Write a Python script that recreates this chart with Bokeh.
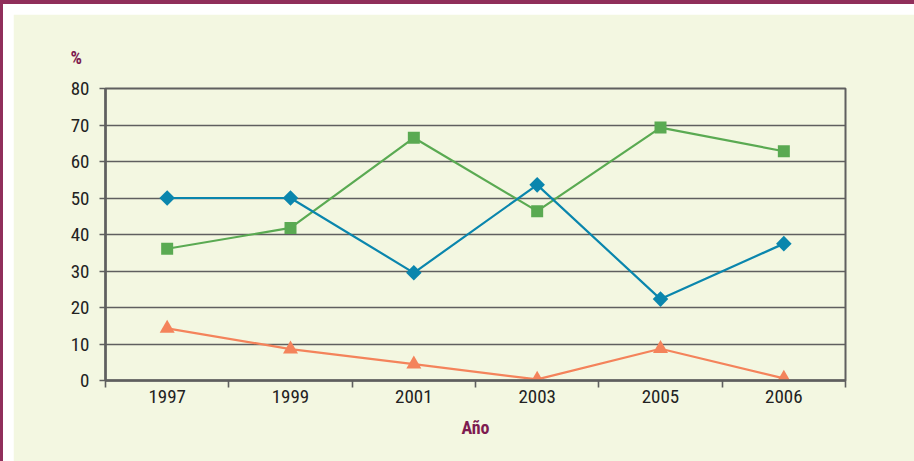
import numpy as np
from bokeh.plotting import figure
from bokeh.models import FixedTicker, Range1d
from bokeh.embed import file_html
from bokeh.resources import INLINE

years = ["1997", "1999", "2001", "2003", "2005", "2006"]
serie_azul = [50, 50, 29.5, 53.6, 22.3, 37.5]
serie_verde = [36.1, 41.8, 66.5, 46.4, 69.3, 62.8]
serie_naranja = [14.3, 8.6, 4.5, 0.3, 8.7, 0.6]
y_ticks = [0, 10, 20, 30, 40, 50, 60, 70, 80]

BG = "#f3f7e1"
GRID = "#5f5f5f"
MAROON = "#7d1b50"
FONT = "Roboto Condensed, Open Sans Condensed, Liberation Sans Narrow, Arial Narrow, DejaVu Sans Condensed, sans-serif"

x = [i + 0.5 for i in range(len(years))]

p = figure(width=914, height=461, output_backend="svg", toolbar_location=None,
           x_range=Range1d(0, len(years)), y_range=Range1d(0, 80),
           min_border_left=92, min_border_right=82, min_border_top=74, min_border_bottom=95)
p.background_fill_color = BG
p.border_fill_color = BG
p.outline_line_color = GRID
p.outline_line_width = 2
p.styles = {"border-top": "4px solid #902e5b", "border-left": "3px solid #902e5b",
            "padding-top": "10px", "padding-left": "10px", "background-color": "#ffffff"}

# title "%"
p.title.text = "%"
p.title.align = "left"
p.title.offset = -35
p.title.standoff = 42
p.title.text_font = FONT
p.title.text_font_style = "bold"
p.title.text_font_size = "18px"
p.title.text_color = MAROON

# grid
p.xgrid.visible = False
p.ygrid.ticker = FixedTicker(ticks=y_ticks)
p.ygrid.grid_line_color = GRID
p.ygrid.grid_line_width = 1.6

# x axis
p.xaxis.ticker = FixedTicker(ticks=x, minor_ticks=list(range(len(years) + 1)))
p.xaxis.major_label_overrides = {xx: yy for xx, yy in zip(x, years)}
p.xaxis.major_tick_out = 0
p.xaxis.major_tick_in = 0
p.xaxis.minor_tick_out = 7
p.xaxis.minor_tick_in = 0
p.xaxis.minor_tick_line_color = GRID
p.xaxis.minor_tick_line_width = 1.6
p.xaxis.axis_line_color = GRID
p.xaxis.axis_line_width = 2.5
p.xaxis.major_label_standoff = 2
p.xaxis.major_label_text_font = FONT
p.xaxis.major_label_text_font_size = "19px"
p.xaxis.major_label_text_color = "#222222"
p.xaxis.axis_label = "Año"
p.xaxis.axis_label_text_font = FONT
p.xaxis.axis_label_text_font_style = "bold"
p.xaxis.axis_label_text_font_size = "18px"
p.xaxis.axis_label_text_color = MAROON
p.xaxis.axis_label_standoff = 11

# y axis
p.yaxis.ticker = FixedTicker(ticks=y_ticks)
p.yaxis.major_tick_out = 6
p.yaxis.major_tick_in = 0
p.yaxis.minor_tick_out = 0
p.yaxis.minor_tick_in = 0
p.yaxis.major_tick_line_color = GRID
p.yaxis.major_tick_line_width = 1.6
p.yaxis.axis_line_color = GRID
p.yaxis.axis_line_width = 2.5
p.yaxis.major_label_standoff = 10
p.yaxis.major_label_text_font = FONT
p.yaxis.major_label_text_font_size = "19px"
p.yaxis.major_label_text_color = "#222222"

# series
BLUE = "#0a86ad"
GREEN = "#5aaa52"
ORANGE = "#f4835b"

p.line(x, serie_verde, line_color=GREEN, line_width=2.2)
p.scatter(x, serie_verde, marker="square", size=12, fill_color=GREEN, line_color=None)

p.line(x, serie_azul, line_color=BLUE, line_width=2.2)
p.scatter(x, serie_azul, marker="square", angle=np.pi / 4, size=11, fill_color=BLUE, line_color=None)

p.line(x, serie_naranja, line_color=ORANGE, line_width=2.2)
p.scatter(x, serie_naranja, marker="triangle", size=15, fill_color=ORANGE, line_color=None)

open("out.html", "w").write(file_html(p, INLINE))
